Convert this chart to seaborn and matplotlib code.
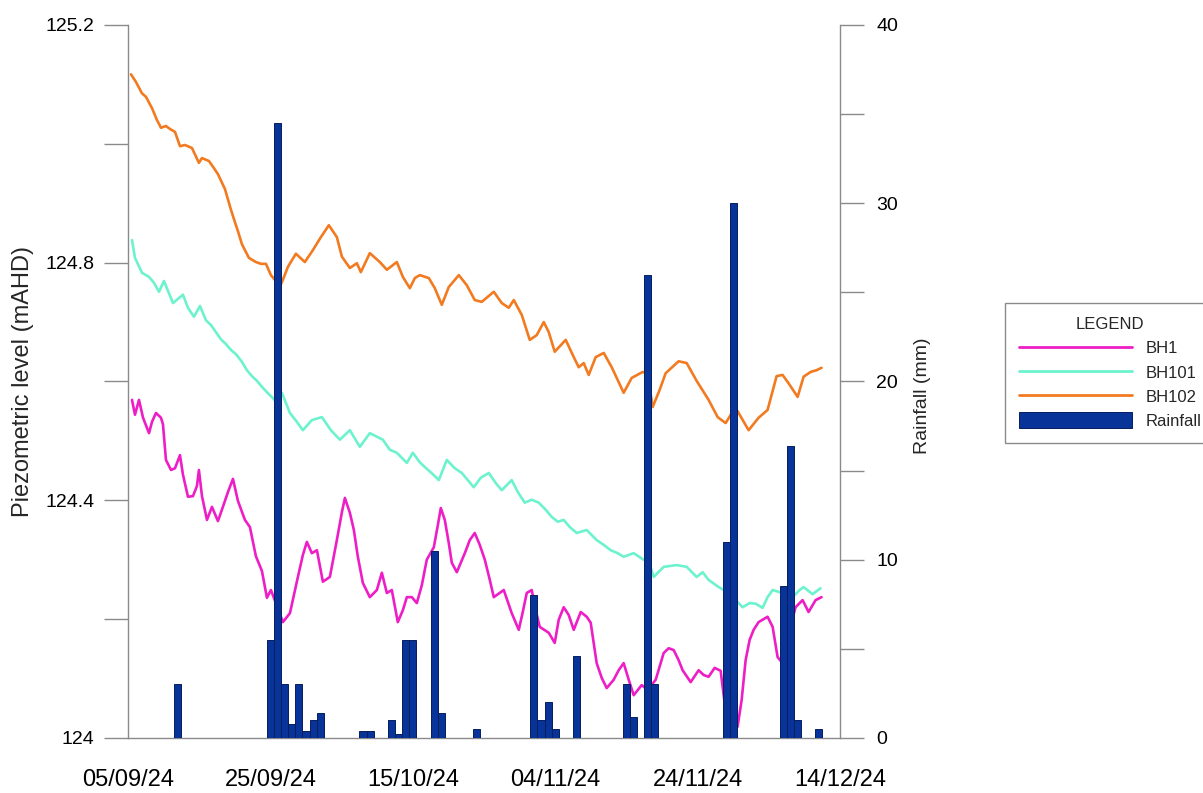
import matplotlib
matplotlib.use("Agg")
import matplotlib.pyplot as plt
import matplotlib.dates as mdates
from matplotlib.lines import Line2D
from matplotlib.patches import Patch
from matplotlib.ticker import FixedLocator
import numpy as np
import pandas as pd
import seaborn as sns

# ---------------------------------------------------------------------------
# Data: groundwater levels (mAHD) logged in three bores, and daily rainfall
# Times are given as days elapsed since 05/09/2024.
# ---------------------------------------------------------------------------
START = "2024-09-05"

bh1_days = [0.56, 0.98, 1.54, 2.11, 2.95, 3.37, 3.93, 4.63, 4.91, 5.33, 6.04, 6.60,
            7.30, 7.72, 8.42, 9.12, 9.68, 9.96, 10.39, 11.09, 11.79, 12.63, 13.33,
            14.04, 14.74, 15.44, 16.42, 17.12, 17.96, 18.81, 19.51, 20.07, 20.77,
            21.75, 22.74, 23.86, 24.56, 25.12, 25.82, 26.53, 27.37, 28.35, 29.33,
            30.04, 30.46, 31.16, 31.72, 32.28, 32.98, 33.96, 34.95, 35.65, 36.35,
            37.05, 37.89, 38.60, 39.16, 39.86, 40.56, 41.26, 41.96, 42.95, 43.51,
            43.93, 44.49, 45.05, 45.47, 46.18, 47.30, 48.00, 48.70, 49.40, 50.11,
            50.81, 51.37, 52.77, 53.89, 54.88, 55.44, 56.00, 56.70, 57.26, 57.82,
            59.09, 59.93, 60.49, 61.19, 61.89, 62.60, 63.58, 64.42, 64.98, 65.82,
            66.53, 67.23, 68.21, 68.91, 69.61, 70.32, 71.02, 72.14, 72.98, 74.11,
            75.23, 75.93, 76.63, 77.33, 77.89, 79.02, 80.14, 80.84, 81.54, 82.39,
            83.23, 84.35, 85.61, 86.18, 86.74, 87.30, 87.86, 88.56, 89.12, 89.82,
            90.53, 91.23, 91.79, 92.91, 93.75, 94.74, 95.58, 96.56, 97.40]
bh1_level = [124.569, 124.544, 124.569, 124.539, 124.513, 124.532, 124.547, 124.539,
             124.528, 124.468, 124.451, 124.454, 124.476, 124.443, 124.406, 124.407,
             124.424, 124.451, 124.407, 124.367, 124.389, 124.365, 124.389, 124.414,
             124.436, 124.399, 124.367, 124.355, 124.306, 124.281, 124.236, 124.249,
             124.227, 124.195, 124.210, 124.271, 124.308, 124.330, 124.311, 124.316,
             124.263, 124.271, 124.333, 124.380, 124.404, 124.379, 124.350, 124.305,
             124.261, 124.237, 124.249, 124.278, 124.244, 124.249, 124.195, 124.215,
             124.237, 124.237, 124.227, 124.257, 124.300, 124.321, 124.358, 124.387,
             124.367, 124.328, 124.295, 124.279, 124.311, 124.333, 124.345, 124.325,
             124.300, 124.266, 124.237, 124.249, 124.210, 124.182, 124.212, 124.244,
             124.249, 124.215, 124.187, 124.177, 124.160, 124.199, 124.220, 124.207,
             124.182, 124.212, 124.204, 124.194, 124.126, 124.101, 124.084, 124.098,
             124.114, 124.126, 124.098, 124.072, 124.089, 124.081, 124.098, 124.143,
             124.151, 124.148, 124.131, 124.114, 124.094, 124.114, 124.106, 124.103,
             124.118, 124.113, 124.005, 124.019, 124.064, 124.131, 124.165, 124.182,
             124.195, 124.199, 124.204, 124.187, 124.136, 124.128, 124.182, 124.220,
             124.232, 124.212, 124.232, 124.237]

bh101_days = [0.56, 0.98, 1.96, 2.95, 3.65, 4.35, 5.05, 6.32, 7.72, 8.42, 9.26, 10.11,
              10.95, 11.65, 12.35, 13.05, 13.75, 14.46, 15.16, 16.00, 16.70, 17.40,
              18.11, 18.81, 19.51, 20.35, 21.05, 21.61, 22.74, 23.72, 24.56, 25.82,
              27.23, 28.49, 29.75, 31.16, 32.56, 33.96, 35.79, 36.77, 37.75, 39.16,
              40.00, 40.98, 41.68, 42.81, 43.65, 44.77, 45.89, 46.88, 48.56, 49.54,
              50.67, 51.65, 52.49, 53.89, 54.74, 55.72, 56.70, 57.68, 58.67, 59.51,
              60.35, 61.19, 62.04, 63.02, 64.42, 65.82, 66.81, 67.79, 68.77, 69.61,
              71.02, 72.42, 73.12, 73.82, 75.23, 77.05, 78.46, 79.86, 80.70, 81.54,
              82.95, 84.35, 85.33, 86.32, 87.30, 88.14, 89.12, 89.82, 90.53, 91.93,
              93.33, 94.32, 94.88, 96.14, 97.26]
bh101_level = [124.838, 124.808, 124.783, 124.776, 124.766, 124.751, 124.769, 124.732,
               124.746, 124.724, 124.709, 124.727, 124.703, 124.695, 124.683, 124.671,
               124.663, 124.653, 124.646, 124.633, 124.619, 124.609, 124.601, 124.591,
               124.582, 124.572, 124.562, 124.581, 124.547, 124.532, 124.518, 124.535,
               124.540, 124.518, 124.502, 124.518, 124.490, 124.513, 124.502, 124.485,
               124.480, 124.463, 124.480, 124.464, 124.456, 124.444, 124.434, 124.468,
               124.454, 124.446, 124.422, 124.438, 124.446, 124.429, 124.417, 124.434,
               124.414, 124.396, 124.401, 124.396, 124.384, 124.372, 124.364, 124.367,
               124.355, 124.345, 124.350, 124.333, 124.325, 124.316, 124.311, 124.305,
               124.311, 124.300, 124.298, 124.271, 124.288, 124.291, 124.288, 124.271,
               124.279, 124.266, 124.254, 124.244, 124.232, 124.220, 124.227, 124.226,
               124.219, 124.237, 124.249, 124.244, 124.237, 124.249, 124.254, 124.242,
               124.252]

bh102_days = [0.42, 1.12, 1.96, 2.53, 3.37, 4.07, 4.63, 5.33, 5.89, 6.60, 7.30, 8.00,
              8.98, 9.96, 10.39, 11.37, 12.07, 12.63, 13.61, 14.46, 15.02, 15.44,
              16.00, 16.98, 17.96, 18.67, 19.37, 20.07, 20.63, 21.19, 21.75, 22.46,
              23.58, 24.84, 25.96, 27.09, 28.21, 29.33, 30.04, 31.16, 32.14, 32.70,
              33.96, 35.37, 36.35, 37.75, 38.60, 39.58, 40.28, 40.98, 42.25, 43.09,
              44.07, 45.05, 46.46, 47.58, 48.70, 49.68, 51.37, 52.49, 53.47, 54.18,
              55.30, 56.42, 57.40, 58.39, 59.09, 59.93, 61.47, 62.60, 63.30, 64.00,
              64.70, 65.68, 66.81, 67.93, 69.61, 70.74, 72.28, 72.98, 73.68, 74.67,
              75.51, 77.33, 78.46, 79.86, 81.54, 82.81, 83.93, 84.91, 85.61, 87.16,
              88.56, 89.82, 91.09, 91.93, 92.77, 94.04, 94.88, 95.86, 96.70, 97.40]
bh102_level = [125.117, 125.104, 125.085, 125.079, 125.060, 125.040, 125.027, 125.030,
               125.025, 125.020, 124.996, 124.998, 124.993, 124.968, 124.976, 124.971,
               124.959, 124.949, 124.924, 124.889, 124.868, 124.853, 124.831, 124.808,
               124.801, 124.798, 124.798, 124.779, 124.771, 124.756, 124.771, 124.793,
               124.815, 124.801, 124.821, 124.843, 124.863, 124.843, 124.810, 124.791,
               124.799, 124.784, 124.816, 124.801, 124.788, 124.801, 124.776, 124.757,
               124.774, 124.779, 124.774, 124.757, 124.729, 124.759, 124.779, 124.762,
               124.737, 124.734, 124.751, 124.732, 124.724, 124.737, 124.712, 124.670,
               124.678, 124.700, 124.683, 124.650, 124.670, 124.641, 124.624, 124.631,
               124.611, 124.641, 124.648, 124.624, 124.581, 124.606, 124.616, 124.613,
               124.557, 124.586, 124.614, 124.634, 124.631, 124.601, 124.569, 124.540,
               124.530, 124.549, 124.550, 124.518, 124.539, 124.552, 124.609, 124.611,
               124.597, 124.574, 124.608, 124.616, 124.619, 124.623]

rain_dates = ["2024-09-12", "2024-09-25", "2024-09-26", "2024-09-27", "2024-09-28",
              "2024-09-29", "2024-09-30", "2024-10-01", "2024-10-02", "2024-10-08",
              "2024-10-09", "2024-10-12", "2024-10-13", "2024-10-14", "2024-10-15",
              "2024-10-18", "2024-10-19", "2024-10-24", "2024-11-01", "2024-11-02",
              "2024-11-03", "2024-11-04", "2024-11-07", "2024-11-14", "2024-11-15",
              "2024-11-17", "2024-11-18", "2024-11-28", "2024-11-29", "2024-12-06",
              "2024-12-07", "2024-12-08", "2024-12-11"]
rain_mm = [3.0, 5.5, 34.5, 3.0, 0.8, 3.0, 0.4, 1.0, 1.4, 0.4,
           0.4, 1.0, 0.2, 5.5, 5.5, 10.5, 1.4, 0.5, 8.0, 1.0,
           2.0, 0.5, 4.6, 3.0, 1.2, 26.0, 3.0, 11.0, 30.0, 8.5,
           16.4, 1.0, 0.5]

x_major_labels = ["2024-09-05", "2024-09-25", "2024-10-15", "2024-11-04",
                  "2024-11-24", "2024-12-14"]
x_minor_ticks = ["2024-09-15", "2024-10-05", "2024-10-25", "2024-11-14",
                 "2024-12-04"]
level_major = [124.0, 124.4, 124.8, 125.2]
level_labels = ["124", "124.4", "124.8", "125.2"]
level_minor = [124.2, 124.6, 125.0]
rain_major = [0, 10, 20, 30, 40]
rain_minor = [5, 15, 25, 35]

series_names = ["BH1", "BH101", "BH102"]
series_colors = ["#EE1EC6", "#6CF3CE", "#F27A20"]
bar_fill = "#08349A"
bar_edge = "#061E5E"
axis_grey = "#8A8A8A"

# ---------------------------------------------------------------------------
sns.set_style("white")
plt.rcParams["font.family"] = ["Liberation Sans", "DejaVu Sans"]

t0 = pd.Timestamp(START)
frames = []
for name, days, level in [("BH1", bh1_days, bh1_level),
                          ("BH101", bh101_days, bh101_level),
                          ("BH102", bh102_days, bh102_level)]:
    frames.append(pd.DataFrame({
        "time": t0 + pd.to_timedelta(np.asarray(days), unit="D"),
        "level": level,
        "bore": name,
    }))
levels = pd.concat(frames, ignore_index=True)

rain = pd.DataFrame({"date": pd.to_datetime(rain_dates), "mm": rain_mm})

fig = plt.figure(figsize=(12.03, 7.93), dpi=100)
ax = fig.add_axes([0.1064, 0.0694, 0.5919, 0.8991])

sns.lineplot(data=levels, x="time", y="level", hue="bore",
             hue_order=series_names, palette=series_colors,
             linewidth=1.9, legend=False, ax=ax, sort=True, estimator=None)

# rainfall on the secondary axis, drawn above the level traces
ax2 = ax.twinx()
ax2.bar(rain["date"], rain["mm"], width=1.0, align="center",
        color=bar_fill, edgecolor=bar_edge, linewidth=0.7)

x_lo, x_hi = pd.Timestamp("2024-09-05"), pd.Timestamp("2024-12-14")
ax.set_xlim(x_lo, x_hi)
ax.set_ylim(124.0, 125.2)
ax2.set_ylim(0, 40)

ax.xaxis.set_major_locator(FixedLocator(mdates.date2num(pd.to_datetime(x_major_labels))))
ax.xaxis.set_minor_locator(FixedLocator(mdates.date2num(pd.to_datetime(x_minor_ticks))))
ax.xaxis.set_major_formatter(mdates.DateFormatter("%d/%m/%y"))

ax.set_yticks(level_major)
ax.set_yticklabels(level_labels)
ax.set_yticks(level_minor, minor=True)
ax2.set_yticks(rain_major)
ax2.set_yticks(rain_minor, minor=True)

for a in (ax, ax2):
    a.tick_params(axis="both", which="both", direction="out", length=17,
                  width=1.0, color=axis_grey, labelsize=14, labelcolor="black")
    for s in a.spines.values():
        s.set_color(axis_grey)
        s.set_linewidth(1.0)
ax.tick_params(axis="y", which="both", pad=7)
ax.tick_params(axis="x", which="both", pad=5, labelsize=17)
ax2.tick_params(axis="y", which="both", pad=9)

ax.spines["top"].set_visible(False)
ax.spines["right"].set_visible(False)
ax2.spines["top"].set_visible(False)
ax2.spines["left"].set_visible(False)
ax2.spines["bottom"].set_visible(False)

ax.set_xlabel("")
ax.set_ylabel("Piezometric level (mAHD)", fontsize=17)
ax.yaxis.set_label_coords(-0.132, 0.5)
ax2.set_ylabel("Rainfall (mm)", fontsize=14)
ax2.yaxis.set_label_coords(1.104, 0.48)

handles = [Line2D([], [], color=c, linewidth=2.0) for c in series_colors]
handles.append(Patch(facecolor=bar_fill, edgecolor=bar_edge, linewidth=0.7))
labels = series_names + ["Rainfall"]
leg = fig.legend(handles, labels, title="LEGEND", loc="upper left",
                 bbox_to_anchor=(0.8354, 0.6179), borderaxespad=0.0,
                 fontsize=12, title_fontsize=12,
                 handlelength=6.8, handleheight=1.1, handletextpad=0.78,
                 labelspacing=0.45, borderpad=0.85, frameon=True, fancybox=False,
                 framealpha=1.0, edgecolor=axis_grey)
leg.get_frame().set_linewidth(1.0)

fig.savefig("out.png", dpi=100)
